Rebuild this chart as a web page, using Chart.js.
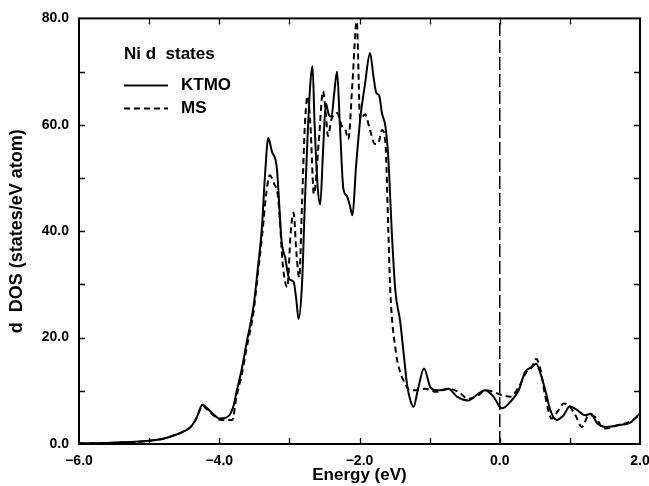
<!DOCTYPE html>
<html>
<head>
<meta charset="utf-8">
<script src="https://cdn.jsdelivr.net/npm/chart.js@4"></script>
<style>
  html, body { margin: 0; padding: 0; background: #fff; }
  #wrap { width: 649px; height: 486px; }
</style>
</head>
<body>
<div id="wrap"><canvas id="dos"></canvas></div>
<script>
// Ni d DOS, KTMO vs MS

let ktmoEnergy = [-6.0, -5.6, -5.2, -5.0, -4.8, -4.65, -4.5, -4.4, -4.32, -4.24, -4.18, -4.1, -4.0, -3.92, -3.85, -3.8, -3.75, -3.68, -3.61, -3.51,
    -3.45, -3.39, -3.35, -3.30, -3.25, -3.18, -3.11, -3.06, -3.0, -2.94, -2.90, -2.87, -2.82, -2.78, -2.74, -2.70, -2.67, -2.64, -2.60, -2.56,
    -2.52, -2.48, -2.44, -2.40, -2.36, -2.32, -2.28, -2.23, -2.18, -2.14, -2.10, -2.05, -1.99, -1.92, -1.85, -1.80, -1.76, -1.72, -1.68, -1.63,
    -1.59, -1.54, -1.49, -1.42, -1.37, -1.32, -1.27, -1.23, -1.16, -1.08, -0.99, -0.90, -0.80, -0.73, -0.61, -0.45, -0.30, -0.21, -0.09, 0.03,
    0.15, 0.27, 0.36, 0.46, 0.52, 0.58, 0.65, 0.72, 0.81, 0.91, 1.00, 1.10, 1.22, 1.30, 1.39, 1.53, 1.72, 1.86, 2.00];
let ktmoDos = [0.1, 0.2, 0.4, 0.6, 1.0, 1.6, 2.4, 3.3, 5.0, 7.4, 6.8, 5.8, 4.8, 4.9, 5.5, 7.0, 10.0, 14.0, 19.0, 26.0,
    33.0, 41.0, 50.0, 57.5, 55.0, 52.0, 38.0, 35.0, 31.0, 30.5, 27.0, 23.5, 30.0, 45.0, 58.0, 68.0, 71.0, 60.0, 49.0, 45.0,
    55.0, 64.0, 62.0, 61.5, 66.0, 70.0, 60.0, 48.0, 46.6, 45.0, 43.0, 52.0, 61.0, 67.8, 73.5, 69.0, 66.0, 65.5, 62.2, 59.7,
    54.0, 40.0, 29.0, 23.0, 17.0, 11.0, 8.0, 7.0, 10.7, 14.2, 10.7, 10.1, 10.2, 10.4, 8.9, 8.2, 9.5, 10.1, 8.9, 6.7,
    7.9, 10.1, 13.5, 14.5, 15.1, 13.3, 10.1, 6.4, 4.5, 5.4, 7.1, 6.4, 5.4, 5.7, 3.9, 3.2, 3.6, 4.0, 5.8];

let msEnergy = [-6.0, -5.6, -5.2, -5.0, -4.8, -4.65, -4.5, -4.4, -4.32, -4.24, -4.18, -4.1, -4.0, -3.92, -3.85, -3.81, -3.76, -3.68, -3.61, -3.51,
    -3.45, -3.39, -3.33, -3.28, -3.22, -3.16, -3.09, -3.03, -2.98, -2.94, -2.90, -2.86, -2.82, -2.78, -2.74, -2.70, -2.65, -2.58, -2.52, -2.48,
    -2.45, -2.40, -2.32, -2.25, -2.20, -2.16, -2.10, -2.04, -1.99, -1.92, -1.85, -1.78, -1.73, -1.68, -1.63, -1.59, -1.56, -1.48, -1.42, -1.35,
    -1.28, -1.16, -1.07, -0.90, -0.73, -0.59, -0.45, -0.30, -0.21, -0.09, 0.03, 0.15, 0.27, 0.38, 0.46, 0.52, 0.58, 0.65, 0.74, 0.84,
    0.91, 0.98, 1.08, 1.17, 1.27, 1.37, 1.48, 1.70, 1.86, 2.00];
let msDos = [0.1, 0.2, 0.4, 0.6, 1.0, 1.6, 2.4, 3.3, 5.0, 7.2, 6.6, 5.6, 4.6, 4.5, 4.5, 4.6, 8.5, 13.0, 18.0, 25.0,
    32.0, 39.0, 47.0, 50.5, 49.0, 46.3, 33.2, 29.5, 40.0, 43.5, 36.0, 31.3, 45.0, 59.7, 65.4, 60.0, 47.0, 57.0, 66.3, 62.0,
    57.9, 61.0, 62.2, 59.7, 59.0, 57.3, 68.0, 79.4, 61.0, 62.0, 59.0, 56.4, 56.6, 59.0, 56.5, 40.5, 28.5, 17.2, 13.5, 11.4,
    10.1, 10.1, 10.4, 9.8, 10.4, 9.8, 8.5, 9.2, 10.1, 9.8, 9.2, 8.9, 10.7, 13.5, 14.5, 16.0, 14.0, 8.9, 4.8, 6.4,
    7.6, 7.3, 5.4, 3.2, 5.4, 5.0, 2.9, 3.6, 4.2, 5.5];

// Fermi level marker
let fermiEnergy = [0, 0];
let fermiDos = [0, 80];

let xMin = -6, xMax = 2, xStep = 1;
let yMin = 0, yMax = 80, yStep = 10;
let legendTitle = "Ni d  states";
let seriesNames = ["KTMO", "MS"];

let fontFamily = "'Liberation Sans', Arial, Helvetica, sans-serif";

function toPoints(xs, ys) {
    let pts = [];
    for (let i = 0; i < xs.length; i++) {
        pts.push({ x: xs[i], y: ys[i] });
    }
    return pts;
}

// ticks pointing into the plot on all four sides, plus the frame
let frameTicks = {
    id: "frameTicks",
    afterDatasetsDraw(chart) {
        let ctx = chart.ctx;
        let a = chart.chartArea;
        let xs = chart.scales.x;
        let ys = chart.scales.y;
        ctx.save();
        ctx.strokeStyle = "#000";
        ctx.lineWidth = 2;
        ctx.strokeRect(a.left, a.top, a.right - a.left, a.bottom - a.top);
        ctx.lineWidth = 1.3;
        ctx.beginPath();
        for (let v = xMin + xStep; v < xMax; v += xStep) {
            let px = Math.round(xs.getPixelForValue(v)) + 0.5;
            ctx.moveTo(px, a.bottom); ctx.lineTo(px, a.bottom - 6);
            ctx.moveTo(px, a.top); ctx.lineTo(px, a.top + 6);
        }
        for (let v = yMin + yStep; v < yMax; v += yStep) {
            let py = Math.round(ys.getPixelForValue(v)) + 0.5;
            ctx.moveTo(a.left, py); ctx.lineTo(a.left + 6, py);
            ctx.moveTo(a.right, py); ctx.lineTo(a.right - 6, py);
        }
        ctx.stroke();
        ctx.restore();
    }
};

// legend block in the upper left of the plot
let insideLegend = {
    id: "insideLegend",
    afterDraw(chart) {
        let ctx = chart.ctx;
        let a = chart.chartArea;
        let x0 = a.left + 45;
        ctx.save();
        ctx.fillStyle = "#000";
        ctx.font = "bold 17px " + fontFamily;
        ctx.textBaseline = "middle";
        ctx.fillText(legendTitle, x0, a.top + 36);
        let rows = [a.top + 67, a.top + 90];
        for (let i = 0; i < 2; i++) {
            let ds = chart.data.datasets[i];
            ctx.strokeStyle = "#000";
            ctx.lineWidth = ds.borderWidth;
            ctx.setLineDash(ds.borderDash || []);
            ctx.beginPath();
            ctx.moveTo(x0, rows[i]);
            ctx.lineTo(x0 + 44, rows[i]);
            ctx.stroke();
            ctx.setLineDash([]);
            ctx.fillText(seriesNames[i], x0 + 57, rows[i]);
        }
        ctx.restore();
    }
};

let ctx = document.getElementById("dos").getContext("2d");

new Chart(ctx, {
    type: "line",
    data: {
        datasets: [
            {
                label: seriesNames[0],
                data: toPoints(ktmoEnergy, ktmoDos),
                borderColor: "#000",
                borderWidth: 2,
                pointRadius: 0,
                cubicInterpolationMode: "monotone",
                fill: false
            },
            {
                label: seriesNames[1],
                data: toPoints(msEnergy, msDos),
                borderColor: "#000",
                borderWidth: 2,
                borderDash: [6, 4],
                pointRadius: 0,
                cubicInterpolationMode: "monotone",
                fill: false
            },
            {
                label: "E_F",
                data: toPoints(fermiEnergy, fermiDos),
                borderColor: "#000",
                borderWidth: 1.5,
                borderDash: [13, 4],
                pointRadius: 0,
                fill: false
            }
        ]
    },
    options: {
        responsive: true,
        maintainAspectRatio: false,
        animation: false,
        layout: { padding: { top: 17, right: 9, left: 0, bottom: 0 } },
        plugins: {
            legend: { display: false },
            tooltip: { enabled: false }
        },
        scales: {
            x: {
                type: "linear",
                min: xMin,
                max: xMax,
                afterFit: s => {
                    s.height = 42;
                    // let the last label run off the edge like the original
                    s.paddingRight = 0;
                    s.paddingLeft = 0;
                },
                grid: { display: false, drawTicks: false },
                border: { display: false },
                ticks: {
                    stepSize: 2,
                    padding: 9,
                    color: "#000",
                    font: { family: fontFamily, size: 14, weight: "bold" },
                    callback: v => v.toFixed(1).replace("-", "\u2212")
                },
                title: {
                    display: true,
                    text: "Energy (eV)",
                    color: "#000",
                    padding: { top: 0, bottom: 0 },
                    font: { family: fontFamily, size: 17, weight: "bold" }
                }
            },
            y: {
                min: yMin,
                max: yMax,
                afterFit: s => { s.width = 79; },
                grid: { display: false, drawTicks: false },
                border: { display: false },
                ticks: {
                    stepSize: 20,
                    padding: 10,
                    color: "#000",
                    font: { family: fontFamily, size: 14, weight: "bold" },
                    callback: v => v.toFixed(1)
                },
                title: {
                    display: true,
                    text: "d  DOS (states/eV atom)",
                    color: "#000",
                    padding: { top: 6, bottom: 0 },
                    font: { family: fontFamily, size: 18, weight: "bold" }
                }
            }
        }
    },
    plugins: [frameTicks, insideLegend]
});
</script>
</body>
</html>
